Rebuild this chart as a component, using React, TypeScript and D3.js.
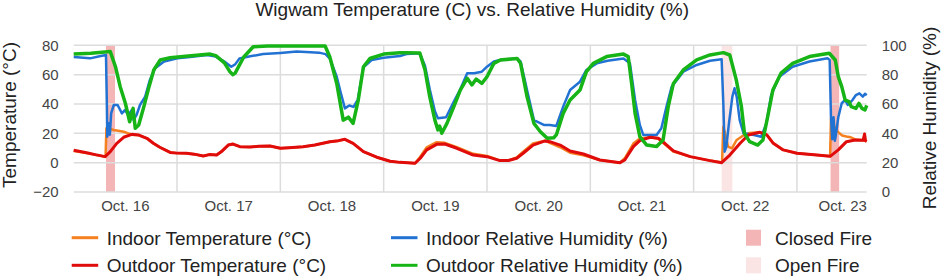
import React from "react";
import * as d3 from "d3";

// hours since Oct 16 00:00, value
const outdoorTemp: [number, number][] = [
  [0, 8.5], [3, 6.8], [5, 5.5], [7.3, 4.1], [8.5, 7.5], [10, 13.2], [11.6, 17.3], [13.5, 19.3], [15, 18.9],
  [17, 16.6], [18.5, 13.2], [20, 10.5], [22.4, 7], [24, 6.5], [26.2, 6.4], [28, 5.8], [30.1, 4.6], [31.5, 5.5],
  [33.2, 5.2], [34.5, 8], [35.9, 12], [37, 12.7], [38.6, 10.9], [41, 10.6], [43, 11.2], [45.6, 11.4], [48, 9.8],
  [50, 10.2], [53.3, 10.9], [56, 12], [59.5, 14.3], [61.5, 15], [63, 15.9], [64.9, 13.2], [67.3, 7.5], [70.4, 3.7],
  [73.5, 1], [75.8, 0.2], [79.3, -0.4], [80.5, 3], [82, 8.7], [84.3, 12.5], [86.2, 12.7], [89, 9.8], [92.8, 5.2],
  [96, 4.1], [99, 1.4], [101, 1.5], [102.9, 3], [104.4, 6.4], [106.7, 12], [109.5, 14.8], [110.6, 14.3], [113, 12],
  [115.3, 8], [118.4, 5.9], [122.2, 1.8], [126.9, 0], [128, 1.8], [130, 10.9], [131.5, 15], [133.9, 17.3],
  [135.8, 16.6], [137.3, 13.2], [139.3, 8], [143.2, 4.1], [147.8, 1.4], [150.5, 0], [152.4, 5.2], [154.8, 13.2],
  [156.7, 18.9], [159.4, 20.7], [161, 18.9], [162.5, 13.2], [164.8, 8.7], [168, 6.4], [172.6, 5.2], [175.7, 4.3],
  [177.6, 8.7], [179.5, 14.3], [181.5, 15.5], [183.4, 15.2], [183.7, 19.5], [183.9, 15], [184.2, 14.5],
];

const indoorTemp: [number, number][] = [
  [0, 8], [3, 6.5], [5, 5.3], [7.4, 4.1], [7.6, 23.4], [8.5, 23], [9.3, 22.3], [11.6, 21.1], [12.7, 20],
  [13.9, 18.9], [15, 18.9], [17, 16.6], [18.5, 13.2], [20, 10.5], [22.4, 7], [24, 6.5], [26.2, 6.4], [28, 5.8],
  [30.1, 4.6], [31.5, 5.5], [33.2, 5.2], [34.5, 8], [35.9, 12], [37, 12.7], [38.6, 10.9], [41, 10.6], [43, 11.2],
  [45.6, 11.4], [48, 9.8], [50, 10.2], [53.3, 10.9], [56, 12], [59.5, 14.3], [61.5, 15], [63, 15.9], [64.9, 13.2],
  [67.3, 7.5], [70.4, 3.7], [73.5, 1], [75.8, 0.2], [79.3, -0.4], [80.5, 4], [82, 10.5], [84.3, 14], [86.2, 13.5],
  [89, 10.5], [92.8, 6], [96, 4.5], [99, 1.6], [101, 1.6], [102.9, 3.5], [104.4, 7.5], [106.7, 13], [109.5, 15],
  [110.6, 13.5], [113, 10.5], [115.3, 6.8], [118.4, 5], [122.2, 1.8], [126.9, 0], [128, 3], [130, 13], [131.5, 16.5],
  [133.9, 17.3], [135.8, 16.2], [137.3, 12.5], [139.3, 7.5], [143.2, 4.1], [147.8, 1.4], [150.6, 0.2], [150.9, 24.5],
  [151.3, 20], [152, 10.9], [152.9, 9.8], [154, 15.5], [155.7, 18.9], [157, 20.3], [159.4, 20.7], [161, 18.9],
  [162.5, 13.2], [164.8, 8.7], [168, 6.4], [172.6, 5.2], [175.7, 4.3], [175.9, 30], [176.3, 28], [176.8, 24],
  [177.5, 21], [178.5, 18.5], [179.5, 17.8], [180.5, 17.3], [181.5, 15.8], [183.4, 15.2], [183.7, 19.5],
  [183.9, 15], [184.2, 14.5],
];

const indoorRH: [number, number][] = [
  [0, 92], [3.8, 91.1], [6, 92.5], [7.5, 93.4], [7.7, 60], [7.8, 37.7], [8.1, 46.8], [8.4, 39], [8.7, 53.6],
  [9.3, 59.3], [10.2, 59.3], [11.2, 53.6], [11.9, 55.9], [12.7, 52.5], [13.5, 56], [13.9, 49], [14.6, 52.5],
  [15.4, 59.3], [16.6, 65], [17.7, 76.4], [18.9, 84.3], [21, 88.9], [24.1, 91.1], [27, 92], [31, 93.4], [33, 92.3],
  [35, 88.9], [36.6, 85.4], [37.5, 87], [38.5, 91], [41, 92.5], [44, 94], [48, 94.8], [51.8, 95.7], [55, 95.3],
  [57, 95], [58.5, 94], [59.5, 91], [61.1, 78.6], [62, 68], [63, 57], [64, 59], [65, 58], [66, 63], [67.3, 85],
  [69.2, 90], [72, 91.5], [75.8, 92.7], [77.3, 94], [80.4, 94.5], [81.6, 86], [82.7, 70], [83.9, 55], [84.6, 50.2],
  [86.5, 51], [88.3, 61.6], [89.8, 70], [91.4, 81], [93, 81], [94.8, 82], [96, 85.4], [97.6, 89], [99.1, 90],
  [103, 91], [103.8, 89], [105.3, 69.5], [106.9, 49], [109.2, 45.7], [110.6, 45.7], [112.1, 45], [113.7, 58.2],
  [115.3, 69.5], [117.6, 75.2], [119.1, 83.2], [121.5, 87.7], [124, 89.5], [127.7, 91], [129.2, 87.7],
  [130.4, 62.7], [131.5, 45.7], [132.3, 38.9], [135.4, 38.9], [136.5, 43.4], [137.7, 58.2], [138.9, 71.8],
  [141.6, 82], [144.7, 86.6], [147.8, 89.5], [150.5, 90.5], [150.9, 60], [151.2, 27.5], [151.6, 30.9],
  [152.2, 46.8], [153, 65], [153.5, 70.7], [154, 65], [154.7, 49], [155.6, 40], [158, 38.9], [159.7, 37.7],
  [160.9, 46.8], [162, 66], [163.9, 78.6], [167, 85.4], [170.9, 89], [175.1, 91.1], [175.6, 90], [175.9, 51.3],
  [176.2, 36], [176.5, 51], [176.8, 35], [177, 38], [177.6, 51], [178.4, 60.5], [179.2, 62.7], [179.8, 59.3],
  [180.9, 62.7], [181.7, 66.1], [182.5, 67.3], [183.3, 65], [183.8, 67], [184.2, 66],
];

const outdoorRH: [number, number][] = [
  [0, 94], [4, 94.6], [8.5, 95.7], [9.7, 85.4], [10.8, 71.8], [12, 60.5], [13, 47.9], [13.8, 57], [14.3, 43.4],
  [15.1, 45.7], [16.3, 58.2], [17.5, 71.8], [18.6, 83.2], [20.1, 90], [22.4, 91.5], [26, 92.5], [31.7, 94],
  [33, 93], [35, 88], [36.3, 82], [37, 80], [37.5, 81], [39.5, 92], [41.7, 99], [45, 99.5], [58.4, 99.5],
  [59.5, 92], [61.1, 74], [62.6, 49], [63.8, 51], [64.9, 46.8], [66.1, 62.7], [67.3, 85.4], [68.8, 91], [72, 94],
  [75.8, 95], [77.3, 95], [80.4, 94.7], [81.6, 83.2], [82.7, 65], [83.9, 49], [84.6, 42.3], [85, 45], [85.5, 40],
  [86.7, 46.8], [88.3, 58.2], [89.8, 69.5], [91.4, 77.5], [92.5, 73], [93.5, 77], [94.8, 74], [96, 78.6],
  [97.6, 87.7], [99.1, 90], [103, 91], [103.8, 87.7], [105.3, 65], [106.9, 46.8], [108.4, 41.1], [110, 36.6],
  [111.5, 37], [112.1, 38.9], [113.7, 53.6], [115.3, 62.7], [117.6, 69.5], [119.1, 82], [120.7, 87.7],
  [123.8, 92.3], [127.7, 94], [128.8, 92.3], [129.6, 74], [130.4, 53.6], [131.5, 37.7], [133.1, 32], [135.4, 31],
  [136.9, 35.5], [138.1, 58.2], [139.3, 74], [141.6, 83.2], [144.7, 90], [147.8, 93.4], [150.9, 95], [152.4, 93.4],
  [153.9, 76.4], [155.1, 58.2], [155.8, 40], [157, 34.3], [158.9, 32], [160.1, 35.5], [161.2, 51.3], [162.4, 69.5],
  [164.3, 81], [167, 87.7], [170.9, 92.3], [175.5, 94.6], [176.9, 90], [177.6, 78.6], [178.4, 71.8], [179.2, 62.7],
  [180.1, 61.6], [180.6, 58.2], [181.7, 57], [182.4, 60.4], [183.1, 57], [183.8, 55.9], [184.2, 59],
];

// fire periods [start hour, end hour]
const closedFires: [number, number][] = [[7.5, 9.6], [175.8, 177.8]];
const openFires: [number, number][] = [[150.5, 153]];

const dayLabels = ["Oct. 16", "Oct. 17", "Oct. 18", "Oct. 19", "Oct. 20", "Oct. 21", "Oct. 22", "Oct. 23"];
const tempTicks = [-20, 0, 20, 40, 60, 80];
const rhTicks = [0, 20, 40, 60, 80, 100];

const COLORS = {
  indoorTemp: "#f5801f",
  outdoorTemp: "#e00b0b",
  indoorRH: "#2272d3",
  outdoorRH: "#16b416",
  closed: "#f3b5b5",
  open: "#fbe4e4",
};

const FONT = "'Liberation Sans', Arial, sans-serif";

export default function App() {
  const W = 941, H = 276;
  const left = 73.7, right = 866.7, top = 45.3, bottom = 192;
  const x = d3.scaleLinear().domain([0, 184.2]).range([left, right]);
  const yT = d3.scaleLinear().domain([-20, 80]).range([bottom, top]);
  const yRH = d3.scaleLinear().domain([0, 100]).range([bottom, top]);

  const lineT = d3.line<[number, number]>().x((d) => x(d[0])).y((d) => yT(d[1]));
  const lineRH = d3.line<[number, number]>().x((d) => x(d[0])).y((d) => yRH(d[1]));

  const legendRows = [
    { y: 237.7, items: [
      { type: "line", color: COLORS.indoorTemp, label: "Indoor Temperature (°C)", x: 71.7 },
      { type: "line", color: COLORS.indoorRH, label: "Indoor Relative Humidity (%)", x: 391 },
      { type: "box", color: COLORS.closed, label: "Closed Fire", x: 746 },
    ] },
    { y: 265.3, items: [
      { type: "line", color: COLORS.outdoorTemp, label: "Outdoor Temperature (°C)", x: 71.7 },
      { type: "line", color: COLORS.outdoorRH, label: "Outdoor Relative Humidity (%)", x: 391 },
      { type: "box", color: COLORS.open, label: "Open Fire", x: 746 },
    ] },
  ];

  return (
    <svg width={W} height={H} style={{ position: "absolute", left: 0, top: 0, background: "#fff" }} fontFamily={FONT}>
      <rect width={W} height={H} fill="#fff" />
      <text x={472.2} y={15.7} fontSize={19} textAnchor="middle" fill="#222">
        Wigwam Temperature (C) vs. Relative Humidity (%)
      </text>

      {closedFires.map((f, i) => (
        <rect key={"c" + i} x={x(f[0])} y={top} width={x(f[1]) - x(f[0])} height={bottom - top} fill={COLORS.closed} />
      ))}
      {openFires.map((f, i) => (
        <rect key={"o" + i} x={x(f[0])} y={top} width={x(f[1]) - x(f[0])} height={bottom - top} fill={COLORS.open} />
      ))}

      {tempTicks.map((t) => (
        <line key={"h" + t} x1={left} x2={right} y1={yT(t)} y2={yT(t)} stroke="#dcdcdc" strokeWidth={1.5} />
      ))}
      {dayLabels.slice(1).map((_, i) => (
        <line key={"v" + i} x1={x(24 * (i + 1))} x2={x(24 * (i + 1))} y1={top} y2={bottom} stroke="#dcdcdc" strokeWidth={1.5} />
      ))}

      {tempTicks.map((t) => (
        <text key={"lt" + t} x={58.7} y={yT(t) + 5.3} fontSize={15} textAnchor="end" fill="#444">
          {t < 0 ? "\u2212" + Math.abs(t) : t}
        </text>
      ))}
      {rhTicks.map((t) => (
        <text key={"rt" + t} x={881.7} y={yRH(t) + 5.3} fontSize={15} textAnchor="start" fill="#444">
          {t}
        </text>
      ))}
      {dayLabels.map((d, i) => {
        const cx = Math.min(x(24 * i + 12), right - 24);
        return (
          <text key={d} x={cx} y={211} fontSize={15} textAnchor="middle" fill="#444">
            {d}
          </text>
        );
      })}

      <text transform="translate(16,115) rotate(-90)" fontSize={19} textAnchor="middle" fill="#222">
        Temperature (°C)
      </text>
      <text transform="translate(936,118) rotate(-90)" fontSize={19} textAnchor="middle" fill="#222">
        Relative Humidity (%)
      </text>

      <path d={lineT(indoorTemp) || ""} fill="none" stroke={COLORS.indoorTemp} strokeWidth={2.5} strokeLinejoin="round" />
      <path d={lineRH(indoorRH) || ""} fill="none" stroke={COLORS.indoorRH} strokeWidth={2.5} strokeLinejoin="round" />
      <path d={lineT(outdoorTemp) || ""} fill="none" stroke={COLORS.outdoorTemp} strokeWidth={3} strokeLinejoin="round" />
      <path d={lineRH(outdoorRH) || ""} fill="none" stroke={COLORS.outdoorRH} strokeWidth={3.5} strokeLinejoin="round" />

      {legendRows.map((row, ri) => (
        <g key={ri}>
          {row.items.map((it) => (
            <g key={it.label}>
              {it.type === "line" ? (
                <line x1={it.x} x2={it.x + 26.5} y1={row.y} y2={row.y} stroke={it.color} strokeWidth={3} />
              ) : (
                <rect x={it.x} y={row.y - 8} width={15} height={16} fill={it.color} />
              )}
              <text x={it.type === "line" ? it.x + 35 : it.x + 29} y={row.y + 7} fontSize={19} fill="#222">
                {it.label}
              </text>
            </g>
          ))}
        </g>
      ))}
    </svg>
  );
}
